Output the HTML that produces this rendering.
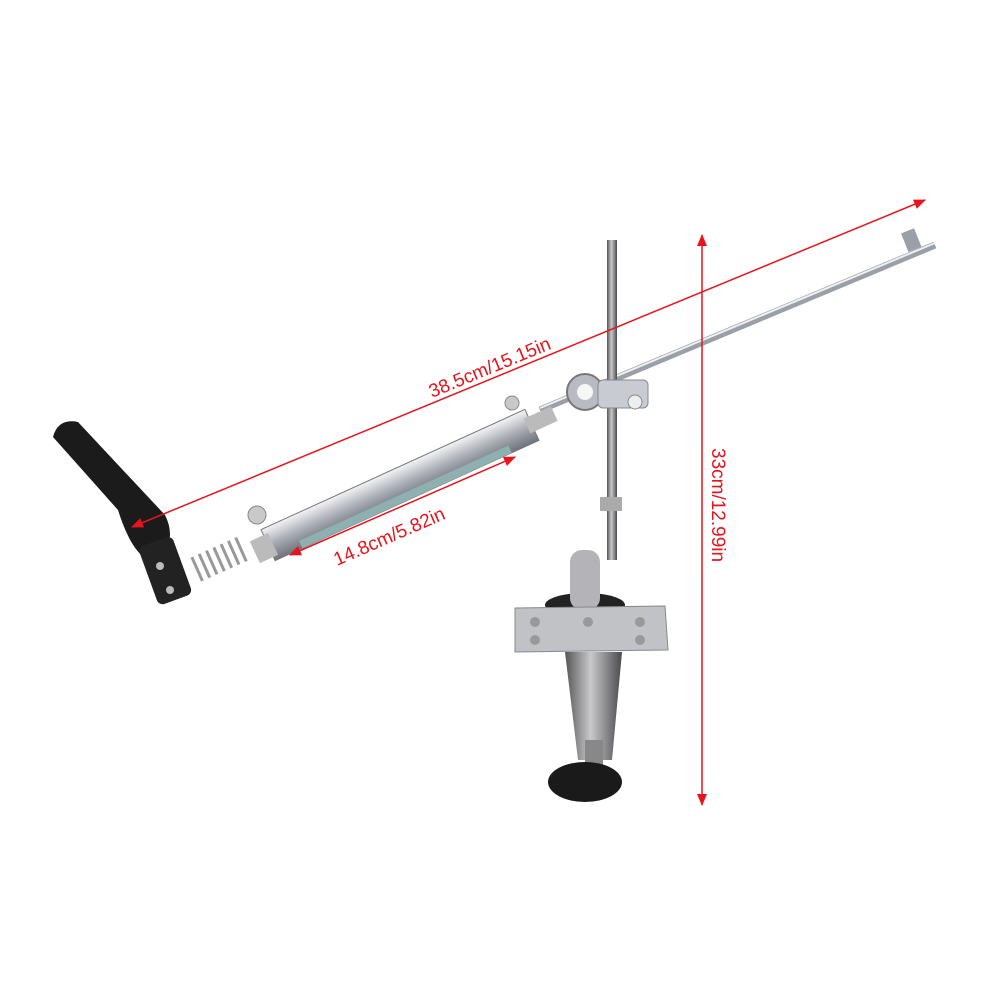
<!DOCTYPE html>
<html><head><meta charset="utf-8"><style>
html,body{margin:0;padding:0;background:#fff;}
svg{display:block}
text{font-family:"Liberation Sans",sans-serif;fill:#e8141c;font-size:19px}
</style></head><body>
<svg width="1000" height="1000" viewBox="0 0 1000 1000">
<defs>
<linearGradient id="met" x1="0" y1="0" x2="0" y2="1">
<stop offset="0" stop-color="#f4f4f6"/><stop offset=".5" stop-color="#a9adb5"/><stop offset="1" stop-color="#6e737c"/></linearGradient>
<linearGradient id="col" x1="0" y1="0" x2="1" y2="0">
<stop offset="0" stop-color="#555"/><stop offset=".45" stop-color="#c9c9cc"/><stop offset="1" stop-color="#4a4a4e"/></linearGradient>
<marker id="ah" markerWidth="12" markerHeight="10" refX="11" refY="5" orient="auto-start-reverse" markerUnits="userSpaceOnUse">
<path d="M0,0 L12,5 L0,10 z" fill="#e8141c"/></marker>
</defs>
<!-- long guide rod -->
<line x1="540" y1="410" x2="935" y2="245" stroke="#9aa0a8" stroke-width="7"/>
<line x1="540" y1="408" x2="935" y2="243" stroke="#eef0f2" stroke-width="2"/>
<rect x="905" y="230" width="14" height="20" fill="#9aa0a8" transform="rotate(-22 912 242)"/>
<!-- vertical rod -->
<rect x="607" y="240" width="10" height="320" fill="url(#col)"/>
<!-- clamp -->
<circle cx="585" cy="392" r="18" fill="#b8bcc2" stroke="#777" stroke-width="2"/>
<circle cx="585" cy="392" r="8" fill="#f6f6f6"/>
<rect x="598" y="380" width="50" height="28" rx="5" fill="#c8ccd2" stroke="#888"/>
<circle cx="635" cy="402" r="7" fill="#eee" stroke="#888"/>
<rect x="600" y="497" width="22" height="14" fill="#aaa"/>
<!-- stone holder -->
<g transform="rotate(-24.5 400 485)">
<rect x="255" y="468" width="290" height="34" fill="url(#met)" stroke="#777"/>
<rect x="285" y="494" width="230" height="8" fill="#8fb0b0"/>
<rect x="540" y="476" width="30" height="16" fill="#bbb"/>
<rect x="240" y="474" width="20" height="24" fill="#bbb"/>
</g>
<circle cx="257" cy="515" r="9" fill="#c9c9c9" stroke="#888"/>
<circle cx="512" cy="403" r="7" fill="#c9c9c9" stroke="#888"/>
<!-- spring -->
<g transform="rotate(-24 215 560)" stroke="#999" stroke-width="3">
<line x1="195" y1="548" x2="195" y2="574"/><line x1="203" y1="548" x2="203" y2="574"/>
<line x1="211" y1="548" x2="211" y2="574"/><line x1="219" y1="548" x2="219" y2="574"/>
<line x1="227" y1="548" x2="227" y2="574"/><line x1="235" y1="548" x2="235" y2="574"/>
<line x1="243" y1="548" x2="243" y2="574"/>
</g>
<!-- handle -->
<path d="M53,437 Q58,418 78,422 L165,515 Q175,535 165,552 L145,558 Q130,548 118,510 Z" fill="#1b1b1b"/>
<rect x="147" y="540" width="36" height="62" rx="6" fill="#222" transform="rotate(-20 164 570)"/>
<circle cx="160" cy="566" r="4" fill="#bbb"/><circle cx="170" cy="590" r="4" fill="#bbb"/>
<!-- base -->
<ellipse cx="585" cy="605" rx="40" ry="12" fill="#222"/>
<rect x="570" y="550" width="30" height="60" rx="12" fill="#b4b4b8"/>
<polygon points="515,608 665,606 668,650 515,652" fill="#c0c2c6" stroke="#888"/>
<circle cx="535" cy="622" r="5" fill="#999"/><circle cx="588" cy="622" r="5" fill="#999"/><circle cx="640" cy="622" r="5" fill="#999"/>
<circle cx="535" cy="640" r="5" fill="#999"/><circle cx="640" cy="640" r="5" fill="#999"/>
<path d="M565,652 L622,652 L612,760 L578,760 Z" fill="url(#col)"/>
<rect x="585" y="740" width="18" height="25" fill="#888"/>
<ellipse cx="585" cy="782" rx="37" ry="20" fill="#1a1a1a"/>
<!-- dimension arrows -->
<line x1="132" y1="527" x2="925" y2="200" stroke="#e8141c" stroke-width="1.5" marker-end="url(#ah)" marker-start="url(#ah)"/>
<line x1="290" y1="555" x2="515" y2="457" stroke="#e8141c" stroke-width="1.5" marker-end="url(#ah)" marker-start="url(#ah)"/>
<line x1="702" y1="235" x2="702" y2="805" stroke="#e8141c" stroke-width="1.5" marker-end="url(#ah)" marker-start="url(#ah)"/>
<text transform="translate(432,398) rotate(-22.4)">38.5cm/15.15in</text>
<text transform="translate(337,566) rotate(-23.5)">14.8cm/5.82in</text>
<text transform="translate(712,448) rotate(90)">33cm/12.99in</text>
</svg>
</body></html>
